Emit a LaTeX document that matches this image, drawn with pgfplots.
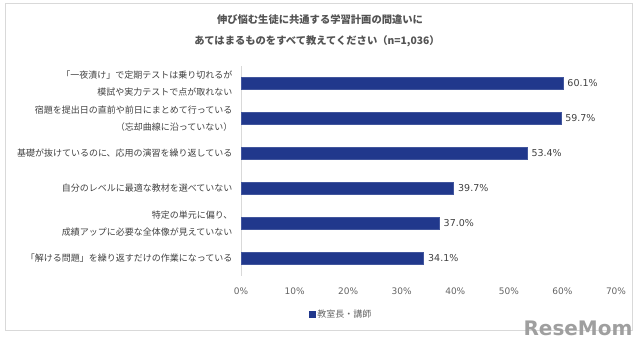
\documentclass[border=0pt]{standalone}
\usepackage{fontspec}
\usepackage{pgfplots}
\pgfplotsset{compat=1.18}
\setmainfont{DejaVu Sans}
\newfontfamily\cjk{Noto Sans CJK JP}
\definecolor{barblue}{RGB}{33,56,140}
\definecolor{txt}{RGB}{64,64,64}
\definecolor{ticktxt}{RGB}{100,100,100}
\definecolor{frame}{RGB}{217,217,217}
\begin{document}
\begin{tikzpicture}
\path[use as bounding box] (0,0) rectangle (640bp,-352bp);
\draw[frame, line width=0.8bp] (5bp,-3bp) rectangle (632bp,-330bp);
\node[font=\cjk\bfseries\fontsize{10.3bp}{12bp}\selectfont, text=txt!90] at (320bp,-20bp) {伸び悩む生徒に共通する学習計画の間違いに};
\node[font=\cjk\bfseries\fontsize{10.3bp}{12bp}\selectfont, text=txt!90] at (317bp,-41bp) {あてはまるものをすべて教えてください（n=1,036）};
\node[font=\bfseries\fontsize{20bp}{22bp}\selectfont, text=gray!75] at (578bp,-328bp) {ReseMom};
\begin{axis}[
  at={(241bp,-66bp)}, anchor=north west,
  scale only axis, width=375bp, height=210bp,
  xbar, bar width=12bp,
  xmin=0, xmax=70, ymin=-0.5, ymax=5.5, y dir=reverse,
  ytick={0,1,2,3,4,5},
  yticklabels={{「一夜漬け」で定期テストは乗り切れるが\\模試や実力テストで点が取れない},
               {宿題を提出日の直前や前日にまとめて行っている\\（忘却曲線に沿っていない）},
               {基礎が抜けているのに、応用の演習を繰り返している},
               {自分のレベルに最適な教材を選べていない},
               {特定の単元に偏り、\\成績アップに必要な全体像が見えていない},
               {「解ける問題」を繰り返すだけの作業になっている}},
  yticklabel style={align=right, font=\cjk\fontsize{9bp}{17bp}\selectfont, text=txt, xshift=-5bp},
  xtick={0,10,...,70},
  xticklabel={\pgfmathprintnumber{\tick}\%},
  xticklabel style={font=\fontsize{9bp}{10bp}\selectfont, text=ticktxt, yshift=-8bp},
  /pgf/number format/assume math mode=true,
  major tick length=0pt,
  axis x line*=bottom, x axis line style={draw=none},
  axis y line*=left, y axis line style={draw=frame, line width=0.8bp},
  nodes near coords={\pgfmathprintnumber[fixed,fixed zerofill,precision=1]{\pgfplotspointmeta}\%},
  nodes near coords style={font=\fontsize{9.5bp}{11bp}\selectfont, text=txt, anchor=west, xshift=1bp},
  point meta=x,
  legend style={at={(0.267,-0.181)}, anchor=center, draw=none, fill=none,
    font=\cjk\fontsize{9bp}{10bp}\selectfont, text=ticktxt},
  legend image code/.code={\fill[barblue] (0bp,-3bp) rectangle (6bp,3bp);},
]
\addplot[fill=barblue, draw=barblue!85!white, line width=0.4bp] coordinates {
  (60.1,0) (59.7,1) (53.4,2) (39.7,3) (37.0,4) (34.1,5)};
\addlegendentry{教室長・講師}
\end{axis}
\end{tikzpicture}
\end{document}
